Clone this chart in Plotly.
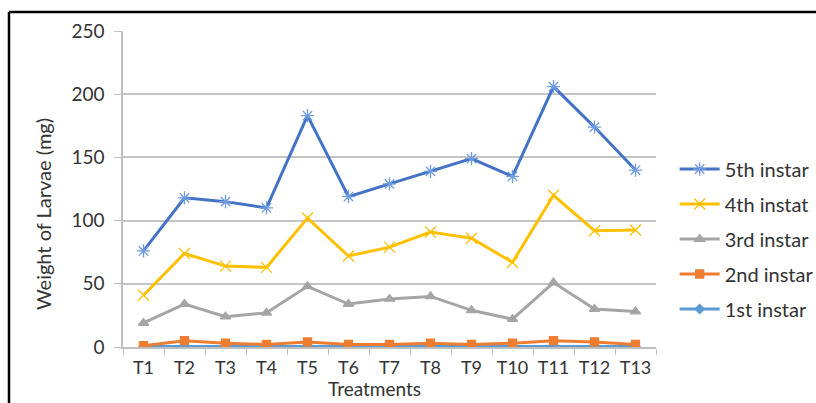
import plotly.graph_objects as go

treatments = ["T1","T2","T3","T4","T5","T6","T7","T8","T9","T10","T11","T12","T13"]
instar1 = [0.3,0.4,0.3,0.3,0.4,0.3,0.3,0.3,0.3,0.3,0.4,0.4,0.3]
instar2 = [1,5,3,2,4,2,2,3,2,3,5,4,2]
instar3 = [19,34,24,27,48,34,38,40,29,22,51,30,28]
instar4 = [41,74,64,63,102,72,79,91,86,67,120,92,92.5]
instar5 = [76,118,115,110,183,119,129,139,149,135,206,174,140]

series = [
    ("1st instar", instar1, "#5B9BD5", "#5B9BD5", "diamond", 7, 5),
    ("2nd instar", instar2, "#ED7D31", "#ED7D31", "square", 8, 4),
    ("3rd instar", instar3, "#A5A5A5", "#A5A5A5", "triangle-up", 9, 3),
    ("4th instat", instar4, "#FFC000", "#FFC000", "x-thin-open", 11, 2),
    ("5th instar", instar5, "#4472C4", "#6F9BE0", "asterisk-open", 11, 1),
]

fig = go.Figure()
for name, vals, lc, mc, sym, sz, rank in series:
    fig.add_trace(go.Scatter(
        x=treatments, y=vals, name=name, mode="lines+markers",
        line=dict(color=lc, width=3),
        marker=dict(symbol=sym, size=sz, color=mc, line=dict(color=mc, width=1.3)),
        legendrank=rank, legendgroup=name,
    ))

font = "Lato, 'Open Sans', sans-serif"
fig.update_layout(
    width=816, height=403,
    margin=dict(l=123, r=160, t=31, b=56, autoexpand=False),
    paper_bgcolor="white", plot_bgcolor="white",
    font=dict(family=font, size=19, color="#333333"),
    showlegend=True,
    legend=dict(x=1.035, y=1-(239-31)/316, xanchor="left", yanchor="middle",
                traceorder="grouped", tracegroupgap=6, itemwidth=40,
                font=dict(size=20, color="#333333"), bgcolor="rgba(0,0,0,0)"),
    xaxis=dict(showgrid=False, showline=True, linecolor="#BFBFBF", linewidth=1.5,
               ticks="outside", tickson="boundaries", ticklen=6, tickcolor="#BFBFBF",
               tickfont=dict(size=18), tickangle=0, range=[-0.5, 12.5], ticklabelstandoff=4),
    yaxis=dict(range=[0, 250], dtick=50, showgrid=True, gridcolor="#C4C4C4", gridwidth=1.5,
               showline=True, linecolor="#BFBFBF", linewidth=1.5, zeroline=False,
               ticks="outside", ticklen=7, tickcolor="#BFBFBF",
               tickfont=dict(size=19), ticklabelstandoff=6),
    annotations=[
        dict(text="Weight of Larvae (mg)", xref="paper", yref="paper",
             x=(43-123)/533, y=1-(214-31)/316, textangle=-90, showarrow=False,
             font=dict(size=20), xanchor="center", yanchor="middle"),
        dict(text="Treatments", xref="paper", yref="paper",
             x=(374-123)/533, y=-(402-347)/316, showarrow=False,
             font=dict(size=19), xanchor="center", yanchor="bottom"),
    ],
    shapes=[
        dict(type="line", xref="paper", yref="paper",
             x0=(9-123)/533, x1=(830-123)/533, y0=1+(31-12)/316, y1=1+(31-12)/316,
             line=dict(color="black", width=2.5)),
        dict(type="line", xref="paper", yref="paper",
             x0=(9-123)/533, x1=(9-123)/533, y0=1+(31-12)/316, y1=-(420-347)/316,
             line=dict(color="black", width=2.5)),
    ],
)

fig.write_html("out.html")
